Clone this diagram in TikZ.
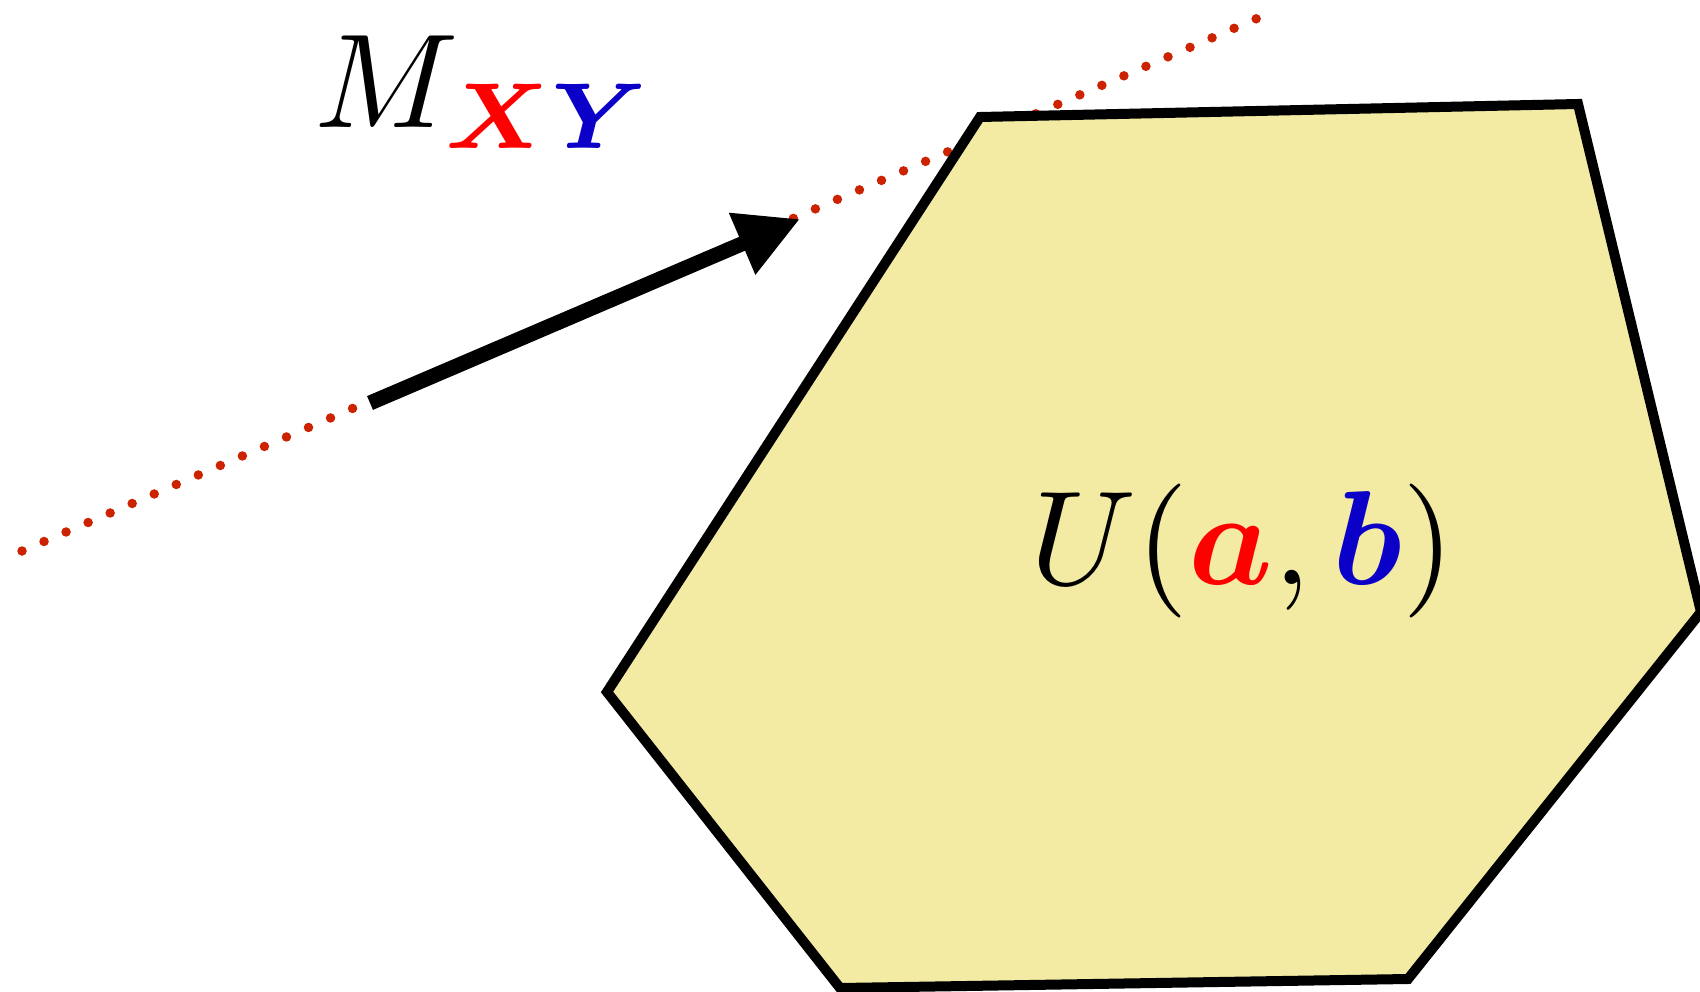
\documentclass[tikz,border=0pt]{standalone}
\usepackage{graphicx}
\usepackage{amsmath,bm}
\usetikzlibrary{arrows.meta}
\definecolor{hexfill}{RGB}{243,235,163}
\definecolor{dotred}{RGB}{204,34,0}
\definecolor{myblue}{RGB}{10,0,200}
\tikzset{
  dotline/.style={dotred, line width=9.5pt, line cap=round, dash pattern=on 0pt off 24pt},
  hexstyle/.style={draw=black, fill=hexfill, line width=10pt, line join=miter},
  bigarrow/.style={line width=15pt, -{Triangle[length=63pt,width=63pt]}},
  bigtext/.style={inner sep=0pt}
}
\begin{document}
\begin{tikzpicture}[x=1pt,y=-1pt]
\useasboundingbox (0,0) rectangle (1700,992);
% dotted line (behind)
\coordinate (d1) at (22,551);
\coordinate (d2) at (1258,18);
\draw[dotline] (d1) -- (d2);
% hexagon
\coordinate (A) at (980,117);
\coordinate (B) at (1578,104);
\coordinate (C) at (1701,612);
\coordinate (D) at (1408,979);
\coordinate (E) at (840,988);
\coordinate (F) at (607,692);
\draw[hexstyle] (A) -- (B) -- (C) -- (D) -- (E) -- (F) -- cycle;
% arrow
\coordinate (arrS) at (370,403);
\coordinate (arrE) at (800,219);
\draw[bigarrow] (arrS) -- (arrE);
% labels
\node[bigtext, anchor=base west] (mxy) at (314,128) {\scalebox{13.4}{$M_{\color{red}\bm{X}\color{myblue}\bm{Y}}$}};
\node[bigtext, anchor=base west] (uab) at (1030,584) {\scalebox{13.4}{$U(\color{red}\bm{a}\color{black},\color{myblue}\bm{b}\color{black})$}};
\end{tikzpicture}
\end{document}
